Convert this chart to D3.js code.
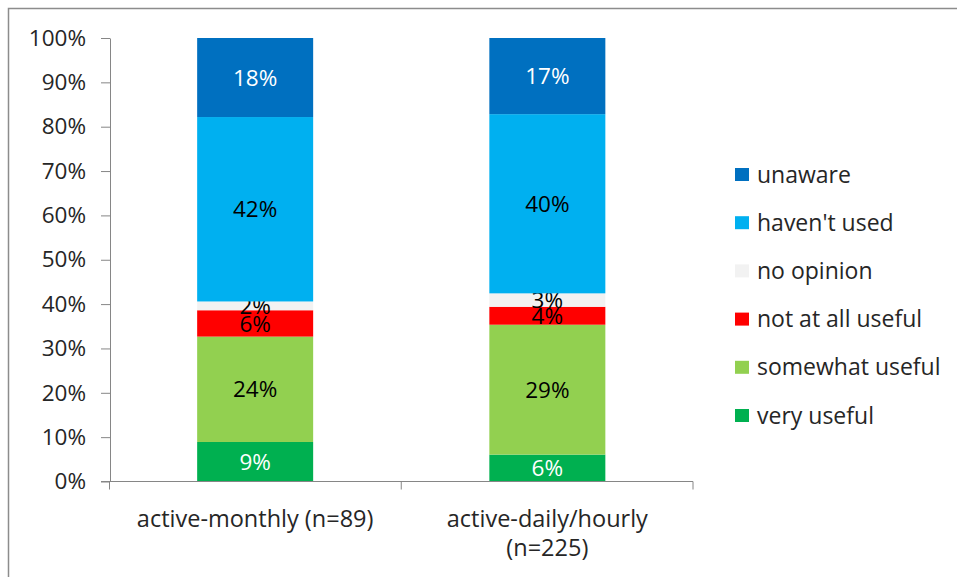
<html>
<script src='https://d3js.org/d3.v7.min.js'></script>
<style>
  body { margin: 0; background: #fff; }
  text { font-family: "Open Sans", Lato, sans-serif; }
  .axis path, .axis line { stroke: #868686; }
  .axis text { fill: #262626; font-size: 22.5px; }
</style>
<body onload='init()'>
<svg width=957 height=577>
</svg>
<script>
// categories and series, bottom to top of each bar
const groups = ["active-monthly (n=89)", "active-daily/hourly (n=225)"];
const groupLines = [["active-monthly (n=89)"], ["active-daily/hourly", "(n=225)"]];
const series = ["very useful", "somewhat useful", "not at all useful", "no opinion", "haven't used", "unaware"];
const colors = ["#00B050", "#92D050", "#FF0000", "#F2F2F2", "#00B0F0", "#0070C0"];
const labelColors = ["#fff", "#000", "#000", "#000", "#000", "#fff"];
const veryUseful = [9, 6];
const somewhatUseful = [24, 29];
const notAtAllUseful = [6, 4];
const noOpinion = [2, 3];
const haventUsed = [42, 40];
const unaware = [18, 17];
const yTicks = [0, 0.1, 0.2, 0.3, 0.4, 0.5, 0.6, 0.7, 0.8, 0.9, 1];

function init() {
  const svg = d3.select("svg");

  // outer chart border (continues past the picture on right and bottom)
  svg.append("rect")
    .attr("x", 8.5).attr("y", 8.5)
    .attr("width", 1000).attr("height", 1000)
    .attr("fill", "none").attr("stroke", "#8c8c8c").attr("stroke-width", 1.5);

  const rows = groups.map((g, i) => ({
    group: g,
    "very useful": veryUseful[i],
    "somewhat useful": somewhatUseful[i],
    "not at all useful": notAtAllUseful[i],
    "no opinion": noOpinion[i],
    "haven't used": haventUsed[i],
    "unaware": unaware[i]
  }));

  const stacked = d3.stack().keys(series).offset(d3.stackOffsetExpand)(rows);

  const x = d3.scaleBand()
    .domain(groups)
    .range([109.5, 693])
    .paddingInner(0.603)
    .paddingOuter(0.3);

  const y = d3.scaleLinear()
    .domain([0, 1])
    .range([481.5, 38]);

  const color = d3.scaleOrdinal().domain(series).range(colors);

  // bars
  const layer = svg.append("g")
    .selectAll("g")
    .data(stacked)
    .enter()
    .append("g")
      .attr("fill", d => color(d.key));

  layer.selectAll("rect")
    .data(d => d)
    .enter()
    .append("rect")
      .attr("x", d => x(d.data.group))
      .attr("y", d => y(d[1]))
      .attr("width", x.bandwidth())
      .attr("height", d => y(d[0]) - y(d[1]));

  // y axis
  svg.append("g")
    .attr("class", "axis")
    .attr("transform", "translate(110,0)")
    .call(d3.axisLeft(y).tickValues(yTicks).tickFormat(d3.format(".0%")).tickSize(9).tickPadding(15).tickSizeOuter(0));

  // x axis with boundary ticks
  const xa = svg.append("g")
    .attr("class", "axis")
    .attr("transform", "translate(0,481.5)");
  xa.append("line")
    .attr("x1", 101).attr("x2", 693)
    .attr("stroke", "#868686");
  const edges = [109.5, (x(groups[0]) + x.bandwidth() + x(groups[1])) / 2, 693];
  xa.selectAll(".edge")
    .data(edges)
    .enter()
    .append("line")
      .attr("class", "edge")
      .attr("x1", d => d).attr("x2", d => d)
      .attr("y1", 0).attr("y2", 8)
      .attr("stroke", "#868686");

  // category labels
  const cat = svg.append("g")
    .selectAll("text")
    .data(groupLines)
    .enter()
    .append("text")
      .attr("x", (d, i) => x(groups[i]) + x.bandwidth() / 2)
      .attr("y", 527)
      .attr("text-anchor", "middle")
      .attr("font-size", 23.5)
      .attr("fill", "#262626");
  cat.selectAll("tspan")
    .data(d => d)
    .enter()
    .append("tspan")
      .attr("x", function () { return this.parentNode.getAttribute("x"); })
      .attr("dy", (d, i) => i === 0 ? 0 : 29)
      .text(d => d);

  // value labels
  layer.each(function (s, si) {
    d3.select(this).selectAll("text")
      .data(s)
      .enter()
      .append("text")
        .attr("x", d => x(d.data.group) + x.bandwidth() / 2)
        .attr("y", d => (y(d[0]) + y(d[1])) / 2)
        .attr("dy", "0.36em")
        .attr("text-anchor", "middle")
        .attr("font-size", 22.5)
        .attr("fill", labelColors[si])
        .text(d => d.data[s.key] + "%");
  });

  // legend, top item is unaware
  const legendItems = series.slice().reverse();
  const ly = d3.scalePoint().domain(legendItems).range([174.5, 415.5]);
  const legend = svg.append("g")
    .selectAll("g")
    .data(legendItems)
    .enter()
    .append("g")
      .attr("transform", d => "translate(735," + ly(d) + ")");
  legend.append("rect")
    .attr("x", 0).attr("y", -6.5)
    .attr("width", 14).attr("height", 13)
    .attr("fill", d => color(d));
  legend.append("text")
    .attr("x", 22)
    .attr("dy", "0.35em")
    .attr("font-size", 23)
    .attr("fill", "#262626")
    .text(d => d);
}
</script>
</body>
</html>
